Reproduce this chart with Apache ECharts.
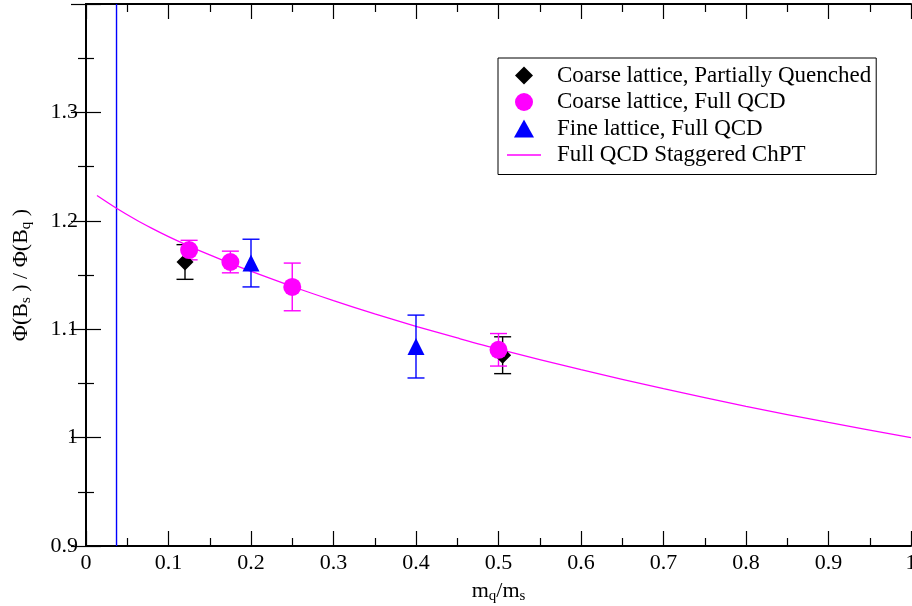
<!DOCTYPE html>
<html>
<head>
<meta charset="utf-8">
<script src="https://cdn.jsdelivr.net/npm/echarts@6/dist/echarts.min.js"></script>
<style>
  html, body { margin: 0; padding: 0; background: #fff; }
  #chart { width: 912px; height: 606px; }
</style>
</head>
<body>
<div id="chart"></div>
<script>
// Coarse lattice, partially quenched
const pqX = [0.12, 0.505]
const pqY = [1.162, 1.076]
const pqErr = [0.016, 0.017]

// Coarse lattice, full QCD
const fullX = [0.125, 0.175, 0.25, 0.5]
const fullY = [1.173, 1.162, 1.139, 1.081]
const fullErr = [0.009, 0.010, 0.022, 0.015]

// Fine lattice, full QCD
const fineX = [0.2, 0.4]
const fineY = [1.161, 1.084]
const fineErr = [0.022, 0.029]

// staggered ChPT fit curve
const fitX = [0.0133, 0.037, 0.06, 0.08, 0.1, 0.125, 0.15, 0.175, 0.2, 0.25, 0.3, 0.35, 0.4, 0.45, 0.5, 0.6, 0.7, 0.8, 0.9, 1.0]
const fitY = [1.2234, 1.2116, 1.2012, 1.1930, 1.1854, 1.1767, 1.1685, 1.1607, 1.1534, 1.1394, 1.1264, 1.1141, 1.1026, 1.0919, 1.0816, 1.0626, 1.0451, 1.0288, 1.0140, 1.0]

// vertical marker line
const vLineX = [0.037, 0.037]
const vLineY = [0.9, 1.4]

const FONT = '"Liberation Serif", "DejaVu Serif", serif'

function pairs(xs, ys) {
  return xs.map((x, i) => [x, ys[i]])
}

function errData(xs, ys, errs) {
  return xs.map((x, i) => [x, ys[i] - errs[i], ys[i] + errs[i]])
}

function errSeries(xs, ys, errs, color) {
  return {
    type: 'custom',
    silent: true,
    z: 2,
    data: errData(xs, ys, errs),
    renderItem(params, api) {
      const lo = api.coord([api.value(0), api.value(1)])
      const hi = api.coord([api.value(0), api.value(2)])
      const w = 8.5
      const style = { stroke: color, lineWidth: 1.4 }
      return {
        type: 'group',
        children: [
          { type: 'line', shape: { x1: lo[0], y1: lo[1], x2: hi[0], y2: hi[1] }, style },
          { type: 'line', shape: { x1: lo[0] - w, y1: lo[1], x2: lo[0] + w, y2: lo[1] }, style },
          { type: 'line', shape: { x1: hi[0] - w, y1: hi[1], x2: hi[0] + w, y2: hi[1] }, style }
        ]
      }
    }
  }
}

const chart = echarts.init(document.getElementById('chart'))

const axisCommon = {
  type: 'value',
  axisLine: { show: true, lineStyle: { color: '#000', width: 2 } },
  axisTick: { show: true, inside: true, length: 15, lineStyle: { color: '#000', width: 1.2 } },
  minorTick: { show: true, splitNumber: 2, length: 8, lineStyle: { color: '#000', width: 1.2 } },
  splitLine: { show: false }
}

const subRich = {
  t: { fontFamily: FONT, fontSize: 22, color: '#000', lineHeight: 24, verticalAlign: 'top' },
  s: { fontFamily: FONT, fontSize: 15, color: '#000', lineHeight: 24, verticalAlign: 'bottom', padding: [10, 0, 0, 0] }
}

chart.setOption({
  animation: false,
  textStyle: { fontFamily: FONT },
  grid: { left: 86, right: 1, top: 4, bottom: 60, outerBoundsMode: 'none' },
  xAxis: [
    {
      ...axisCommon,
      min: 0,
      max: 1,
      interval: 0.1,
      name: '{t|m}{s|q}{t|/m}{s|s}',
      nameLocation: 'middle',
      nameGap: 26,
      nameTextStyle: { rich: subRich },
      axisLabel: {
        fontFamily: FONT,
        fontSize: 22,
        color: '#000',
        margin: 6,
        formatter: (v) => String(Math.round(v * 10) / 10)
      }
    },
    {
      ...axisCommon,
      position: 'top',
      min: 0,
      max: 1,
      interval: 0.1,
      axisLabel: { show: false }
    }
  ],
  yAxis: [
    {
      ...axisCommon,
      min: 0.9,
      max: 1.4,
      interval: 0.1,
      name: '{t|Φ(B}{s|s}{t| ) / Φ(B}{s|q}{t| )}',
      nameLocation: 'middle',
      nameGap: 52,
      nameRotate: 90,
      nameTextStyle: { rich: subRich },
      axisLabel: {
        fontFamily: FONT,
        fontSize: 22,
        color: '#000',
        margin: 8,
        showMaxLabel: false,
        formatter: (v) => String(Math.round(v * 10) / 10)
      }
    },
    {
      ...axisCommon,
      position: 'right',
      min: 0.9,
      max: 1.4,
      interval: 0.1,
      axisLabel: { show: false }
    }
  ],
  legend: {
    orient: 'vertical',
    left: 498,
    top: 58,
    padding: [6, 5, 8, 9],
    itemGap: 3.5,
    itemWidth: 34,
    itemHeight: 18,
    borderColor: '#000',
    borderWidth: 1,
    backgroundColor: '#fff',
    textStyle: { fontFamily: FONT, fontSize: 23, color: '#000', padding: [0, 0, 0, 11] },
    data: [
      { name: 'Coarse lattice, Partially Quenched', icon: 'path://M0,-1 L1,0 L0,1 L-1,0 Z' },
      { name: 'Coarse lattice, Full QCD', icon: 'circle' },
      { name: 'Fine lattice, Full QCD', icon: 'path://M0,-0.9 L1,0.9 L-1,0.9 Z' },
      { name: 'Full QCD Staggered ChPT', icon: 'path://M0,0 L34,0 L34,1.3 L0,1.3 Z' }
    ]
  },
  series: [
    {
      type: 'line',
      data: pairs(vLineX, vLineY),
      symbol: 'none',
      silent: true,
      z: 1,
      lineStyle: { color: '#0000ff', width: 1.4 }
    },
    {
      name: 'Full QCD Staggered ChPT',
      type: 'line',
      data: pairs(fitX, fitY),
      smooth: 0.3,
      symbol: 'none',
      z: 1,
      lineStyle: { color: '#ff00ff', width: 1.3 },
      itemStyle: { color: '#ff00ff' }
    },
    errSeries(pqX, pqY, pqErr, '#000'),
    {
      name: 'Coarse lattice, Partially Quenched',
      type: 'scatter',
      symbol: 'diamond',
      symbolSize: 17,
      z: 3,
      itemStyle: { color: '#000', opacity: 1 },
      data: pairs(pqX, pqY)
    },
    errSeries(fullX, fullY, fullErr, '#ff00ff'),
    {
      name: 'Coarse lattice, Full QCD',
      type: 'scatter',
      symbol: 'circle',
      symbolSize: 18,
      z: 3,
      itemStyle: { color: '#ff00ff', opacity: 1 },
      data: pairs(fullX, fullY)
    },
    errSeries(fineX, fineY, fineErr, '#0000ff'),
    {
      name: 'Fine lattice, Full QCD',
      type: 'scatter',
      symbol: 'triangle',
      symbolSize: 17,
      z: 3,
      itemStyle: { color: '#0000ff', opacity: 1 },
      data: pairs(fineX, fineY)
    }
  ]
})
</script>
</body>
</html>
